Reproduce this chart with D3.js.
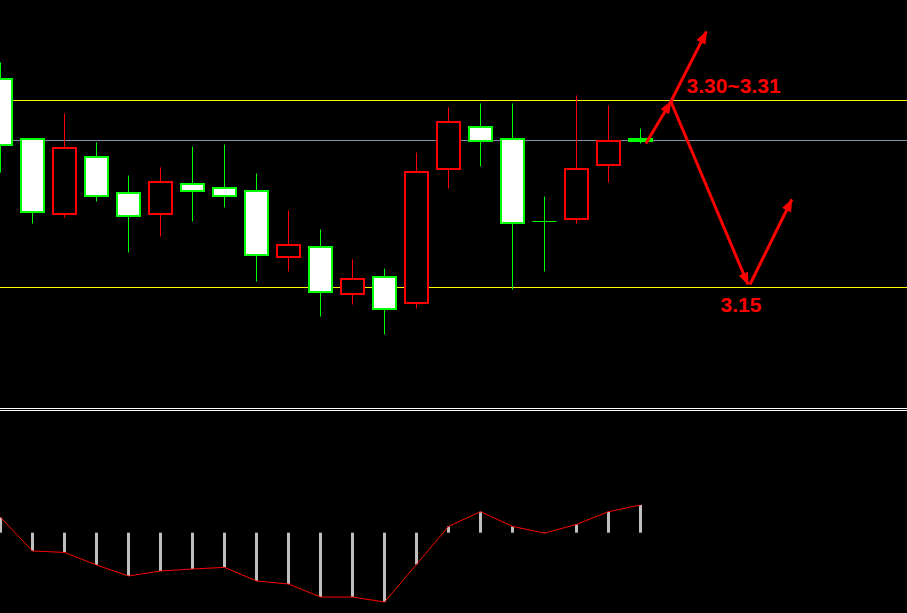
<!DOCTYPE html>
<html><head><meta charset="utf-8">
<script src="https://cdn.jsdelivr.net/npm/d3@7/dist/d3.min.js"></script>
<style>html,body{margin:0;padding:0;background:#000;overflow:hidden}svg{display:block}</style>
</head><body>
<script>
// ---- data ----
const opens  = [3.3176,3.2695,3.2086,3.2543,3.2262,3.2086,3.2334,3.2302,3.2278,3.1741,3.1821,3.1444,3.1588,3.1372,3.2447,3.2791,3.2695,3.2037,3.2053,3.2479,3.2695];
const highs  = [3.3305,3.2695,3.2896,3.2663,3.2398,3.2463,3.2631,3.2647,3.2414,3.2118,3.1965,3.1725,3.1652,3.2583,3.2944,3.2976,3.2976,3.2230,3.3040,3.2960,3.2775];
const lows   = [3.2422,3.2013,3.2061,3.2190,3.1781,3.1909,3.2029,3.2142,3.1548,3.1628,3.1267,3.1364,3.1123,3.1332,3.2294,3.2471,3.1484,3.1628,3.2013,3.2342,3.2655];
const closes = [3.2647,3.2102,3.2615,3.2230,3.2070,3.2350,3.2278,3.2230,3.1757,3.1837,3.1460,3.1572,3.1324,3.2430,3.2824,3.2679,3.2021,3.2037,3.2447,3.2679,3.2679];
const macdHist = [0.00153,-0.00183,-0.00197,-0.00323,-0.00433,-0.00383,-0.00363,-0.00347,-0.00483,-0.00513,-0.00643,-0.00643,-0.00693,-0.00317,0.00063,0.00210,0.00063,-0.00005,0.00083,0.00210,0.00277];
const levels = [3.30, 3.2679, 3.15];
// forecast arrows: [fromIndex, fromPrice, toIndex, toPrice]
const arrowFrom = [[20.17,3.2655],[20.95,3.2992],[20.95,3.2992],[23.42,3.1524]];
const arrowTo   = [[20.95,3.2992],[22.06,3.3552],[23.36,3.1524],[24.73,3.2206]];
const labels = ["3.30~3.31","3.15"];
const labelAt = [[21.44,3.3064],[22.5,3.1301]];

// ---- drawing ----
const W=907,H=613;
const svg=d3.select("body").append("svg").attr("width",W).attr("height",H);
svg.append("rect").attr("width",W).attr("height",H).attr("fill","#000");

const x=d3.scaleLinear().domain([0,20]).range([0.5,640.5]);
const y=d3.scaleLinear().domain([3.15,3.30]).range([287.5,100.5]);
const yh=d3.scaleLinear().domain([0,0.001]).range([532.7,522.7]);

const levelColors=["#ffff00","#8494a6","#ffff00"];
svg.selectAll(".lvl").data(levels).join("line")
  .attr("x1",0).attr("x2",W).attr("y1",d=>y(d)).attr("y2",d=>y(d))
  .attr("stroke",(d,i)=>levelColors[i]).attr("stroke-width",1);

const idx=d3.range(opens.length);
const g=svg.append("g");
idx.forEach(i=>{
  const c=x(i), up=closes[i]>opens[i], doji=closes[i]===opens[i];
  const col=up?"#ff0000":"#00ff00";
  g.append("line").attr("x1",c).attr("x2",c).attr("y1",y(highs[i])).attr("y2",y(lows[i]))
   .attr("stroke",col).attr("stroke-width",1);
  if(doji){
    g.append("line").attr("x1",c-12).attr("x2",c+12).attr("y1",Math.round(y(opens[i]))+0.5).attr("y2",Math.round(y(opens[i]))+0.5)
     .attr("stroke",col).attr("stroke-width",1);
  } else {
    const t=Math.round(y(Math.max(opens[i],closes[i]))), b=Math.round(y(Math.min(opens[i],closes[i])));
    g.append("rect").attr("x",c-11.5).attr("width",23).attr("y",t).attr("height",Math.max(1,b-t))
     .attr("fill",up?"#000":"#fff").attr("stroke",col).attr("stroke-width",2);
  }
});

// separator
[408.5,410.5].forEach(v=>svg.append("line").attr("x1",0).attr("x2",W).attr("y1",v).attr("y2",v).attr("stroke","#fff").attr("stroke-width",1));

// histogram
svg.selectAll(".hb").data(macdHist).join("rect")
  .attr("x",(d,i)=>x(i)-1.5).attr("width",3)
  .attr("y",d=>Math.min(yh(d),yh(0))).attr("height",d=>Math.abs(yh(d)-yh(0)))
  .attr("fill","#c0c0c0");
svg.append("path").datum(macdHist)
  .attr("d",d3.line().x((d,i)=>x(i)).y(d=>yh(d)))
  .attr("fill","none").attr("stroke","#ff0000").attr("stroke-width",1);

// arrows
const defs=svg.append("defs");
defs.append("marker").attr("id","ah").attr("markerUnits","userSpaceOnUse")
  .attr("viewBox","0 -6 13 12").attr("refX",12).attr("refY",0)
  .attr("markerWidth",13).attr("markerHeight",12).attr("orient","auto")
  .append("path").attr("d","M0,-5L13,0L0,5Z").attr("fill","#ff0000");
arrowFrom.forEach((f,i)=>{
  const t=arrowTo[i];
  svg.append("line").attr("x1",x(f[0])).attr("y1",y(f[1])).attr("x2",x(t[0])).attr("y2",y(t[1]))
    .attr("stroke","#ff0000").attr("stroke-width",3).attr("marker-end","url(#ah)");
});
labels.forEach((s,i)=>{
  svg.append("text").attr("x",x(labelAt[i][0])).attr("y",y(labelAt[i][1]))
    .attr("fill","#ff0000").attr("font-family","'Liberation Sans',Arial,sans-serif")
    .attr("font-weight","bold").attr("font-size",21).text(s);
});
</script>
</body></html>
